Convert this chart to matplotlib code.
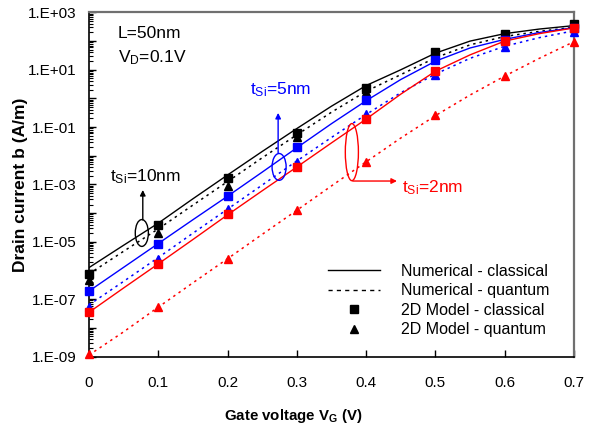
import numpy as np
import matplotlib
matplotlib.use("Agg")
import matplotlib.pyplot as plt
from matplotlib.lines import Line2D
from matplotlib.patches import Ellipse
from matplotlib.ticker import FixedLocator, FuncFormatter, LogLocator, NullFormatter

plt.rcParams["font.family"] = ["Liberation Sans", "DejaVu Sans"]
plt.rcParams["mathtext.fontset"] = "custom"
plt.rcParams["mathtext.rm"] = "Liberation Sans"
plt.rcParams["mathtext.it"] = "Liberation Sans:italic"
plt.rcParams["mathtext.bf"] = "Liberation Sans:bold"

# Gate voltage grids (V)
vg_num = [0.0, 0.05, 0.1, 0.15, 0.2, 0.25, 0.3, 0.35, 0.4, 0.45, 0.5, 0.55, 0.6, 0.65, 0.7]
vg_model = [0.0, 0.1, 0.2, 0.3, 0.4, 0.5, 0.6, 0.7]

# Numerical simulation, log10 of drain current (A/m)
num_cl_10 = [-5.90, -5.12, -4.35, -3.50, -2.67, -1.85, -1.05, -0.27, 0.45, 1.00, 1.58, 2.00, 2.26, 2.42, 2.54]
num_qm_10 = [-6.12, -5.33, -4.55, -3.72, -2.90, -2.07, -1.27, -0.48, 0.25, 0.83, 1.42, 1.87, 2.16, 2.34, 2.48]
num_cl_5 = [-6.72, -5.89, -5.06, -4.23, -3.41, -2.57, -1.72, -0.88, -0.08, 0.66, 1.30, 1.76, 2.06, 2.30, 2.47]
num_qm_5 = [-7.20, -6.38, -5.55, -4.70, -3.86, -3.02, -2.18, -1.36, -0.56, 0.20, 0.85, 1.40, 1.82, 2.12, 2.36]
num_cl_2 = [-7.46, -6.61, -5.77, -4.92, -4.06, -3.22, -2.39, -1.55, -0.72, 0.15, 0.95, 1.52, 2.00, 2.26, 2.46]
num_qm_2 = [-8.95, -8.14, -7.28, -6.43, -5.59, -4.74, -3.90, -3.05, -2.21, -1.38, -0.60, 0.12, 0.78, 1.40, 1.98]

# 2D model, log10 of drain current (A/m)
mod_cl_10 = [-6.12, -4.43, -2.77, -1.19, 0.36, 1.63, 2.23, 2.58]
mod_qm_10 = [-6.33, -4.68, -3.06, -1.33, 0.22, 1.45, 2.15, 2.44]
mod_cl_5 = [-6.72, -5.06, -3.41, -1.68, -0.06, 1.33, 2.05, 2.47]
mod_qm_5 = [-7.28, -5.59, -3.87, -2.21, -0.56, 0.82, 1.80, 2.33]
mod_cl_2 = [-7.46, -5.77, -4.04, -2.39, -0.70, 0.96, 2.01, 2.47]
mod_qm_2 = [-8.90, -7.28, -5.59, -3.90, -2.21, -0.59, 0.78, 1.98]

x_ticks = [0, 0.1, 0.2, 0.3, 0.4, 0.5, 0.6, 0.7]
x_tick_labels = ["0", "0.1", "0.2", "0.3", "0.4", "0.5", "0.6", "0.7"]
y_decades = list(range(-9, 4))
y_labelled = [3, 1, -1, -3, -5, -7, -9]

legend_labels = ["Numerical - classical", "Numerical - quantum",
                 "2D Model - classical", "2D Model - quantum"]

BLACK, BLUE, RED = "#000000", "#0000ff", "#ff0000"
dotted = (0, (1.6, 2.6))

fig = plt.figure(figsize=(5.93, 4.28), dpi=100)
ax = fig.add_axes([0.150, 0.167, 0.818, 0.804])


def pw(vals):
    return 10.0 ** np.asarray(vals)


series = [
    (num_cl_10, num_qm_10, mod_cl_10, mod_qm_10, BLACK),
    (num_cl_5, num_qm_5, mod_cl_5, mod_qm_5, BLUE),
    (num_cl_2, num_qm_2, mod_cl_2, mod_qm_2, RED),
]
for ncl, nqm, mcl, mqm, c in series:
    ax.plot(vg_num, pw(ncl), color=c, lw=1.0, ls="-", zorder=2)
    ax.plot(vg_num, pw(nqm), color=c, lw=1.1, ls=dotted, zorder=2)
for ncl, nqm, mcl, mqm, c in series:
    ax.plot(vg_model, pw(mcl), ls="none", marker="s", ms=5.5, color=c, mec=c,
            clip_on=False, zorder=4)
    ax.plot(vg_model, pw(mqm), ls="none", marker="^", ms=6.0, color=c, mec=c,
            clip_on=False, zorder=4)

ax.set_yscale("log")
ax.set_xlim(0, 0.7)
ax.set_ylim(1e-9, 1e3)

ax.xaxis.set_major_locator(FixedLocator(x_ticks))
ax.set_xticklabels(x_tick_labels)
ax.yaxis.set_major_locator(FixedLocator([10.0 ** d for d in y_decades]))


def ylab(v, pos):
    e = int(round(np.log10(v)))
    if e in y_labelled:
        sign = "+" if e >= 0 else "-"
        return "1.E%s%02d" % (sign, abs(e))
    return ""


ax.yaxis.set_major_formatter(FuncFormatter(ylab))
ax.yaxis.set_minor_locator(LogLocator(base=10, subs=np.arange(2, 10), numticks=100))
ax.yaxis.set_minor_formatter(NullFormatter())
ax.tick_params(axis="y", which="major", direction="in", length=5, width=1,
               labelsize=11, pad=9, right=False)
ax.tick_params(axis="y", which="minor", direction="in", length=3, width=0.8, right=False)
ax.tick_params(axis="x", which="major", direction="in", length=5, width=1,
               labelsize=11, pad=14, top=False)

for side in ("left", "bottom"):
    ax.spines[side].set_color("black")
    ax.spines[side].set_linewidth(1.2)
for side in ("top", "right"):
    ax.spines[side].set_color("#707070")
    ax.spines[side].set_linewidth(1.6)

ax.set_ylabel("Drain current b (A/m)", fontsize=12.5, fontweight="bold")
ax.yaxis.set_label_coords(-0.126, 0.50)
ax.set_xlabel(r"Gate voltage V$_\mathbf{G}$ (V)", fontsize=10.8, fontweight="bold")
ax.xaxis.set_label_coords(0.42, -0.148)

# device parameters
ax.text(0.060, 0.940, "L=50nm", transform=ax.transAxes, fontsize=12.5, va="center", ha="left")
ax.text(0.060, 0.868, r"V$_\mathrm{D}$=0.1V", transform=ax.transAxes, fontsize=12.5,
        va="center", ha="left")

# thickness labels with ellipses and arrows
ann = [
    # (ellipse centre, w, h, arrow start, arrow end, text pos, text, colour)
    ((0.109, 0.359), 0.027, 0.078, (0.111, 0.397), (0.111, 0.484), (0.043, 0.522), "10", BLACK),
    ((0.392, 0.551), 0.029, 0.078, (0.390, 0.592), (0.390, 0.708), (0.332, 0.775), "5", BLUE),
]
for (cx, cy), w, h, a0, a1, tp, t, c in ann:
    ax.add_patch(Ellipse((cx, cy), w, h, transform=ax.transAxes, fill=False,
                         ec=c, lw=1.0, zorder=5))
    ax.annotate("", xy=a1, xytext=a0, xycoords="axes fraction",
                arrowprops=dict(arrowstyle="-|>", color=c, lw=1.0, mutation_scale=8,
                                shrinkA=0, shrinkB=0))
    ax.text(tp[0], tp[1], r"t$_\mathrm{Si}$=%snm" % t, transform=ax.transAxes,
            fontsize=12.5, color=c, va="center", ha="left")

ax.add_patch(Ellipse((0.542, 0.594), 0.027, 0.166, transform=ax.transAxes, fill=False,
                     ec=RED, lw=1.0, zorder=5))
ax.annotate("", xy=(0.635, 0.510), xytext=(0.544, 0.510), xycoords="axes fraction",
            arrowprops=dict(arrowstyle="-|>", color=RED, lw=1.0, mutation_scale=8,
                            shrinkA=0, shrinkB=0))
ax.text(0.645, 0.490, r"t$_\mathrm{Si}$=2nm", transform=ax.transAxes, fontsize=12.5,
        color=RED, va="center", ha="left")

handles = [
    Line2D([], [], color="black", lw=1.0, ls="-"),
    Line2D([], [], color="black", lw=1.0, ls=(0, (3, 3))),
    Line2D([], [], color="black", ls="none", marker="s", ms=5.5),
    Line2D([], [], color="black", ls="none", marker="^", ms=6.0),
]
ax.legend(handles, legend_labels, loc="upper left", bbox_to_anchor=(0.493, 0.269),
          bbox_transform=ax.transAxes, frameon=False, fontsize=11.5, handlelength=3.25,
          handletextpad=1.3, labelspacing=0.28, borderpad=0, borderaxespad=0)

fig.savefig("out.png", dpi=100)
